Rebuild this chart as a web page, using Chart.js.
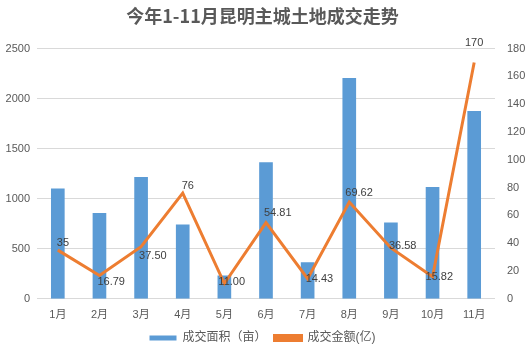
<!DOCTYPE html>
<html>
<head>
<meta charset="utf-8">
<script src="https://cdn.jsdelivr.net/npm/chart.js@4/dist/chart.umd.min.js"></script>
<style>
  html, body { margin: 0; padding: 0; background: #fff; }
  #wrap { width: 525px; height: 354px; }
</style>
</head>
<body>
<div id="wrap"><canvas id="graphique"></canvas></div>
<script>
// donnees
var mois = ['1月','2月','3月','4月','5月','6月','7月','8月','9月','10月','11月'];
var surfaces = [1100, 853, 1213, 740, 230, 1360, 363, 2203, 760, 1113, 1873];
var montants = [35, 16.79, 37.50, 76, 11.00, 54.81, 14.43, 69.62, 36.58, 15.82, 170];
var etiquettesMontants = ['35','16.79','37.50','76','11.00','54.81','14.43','69.62','36.58','15.82','170'];
var ticksGauche = [0, 500, 1000, 1500, 2000, 2500];
var ticksDroite = [0, 20, 40, 60, 80, 100, 120, 140, 160, 180];

// decalage des etiquettes (style)
var decalY = [-7, 7, 9, -7, -2, -10, 0, -9, -2, 0, -20];
var decalX = [-1, -2, -2, -1, -6, -2, -2, -4, -2, -7, 0];

var texteFont = '"Liberation Sans", "Noto Sans CJK SC", sans-serif';

/* plugin pour les etiquettes de la courbe */
var etiquettes = {
  id: 'etiquettes',
  afterDatasetsDraw: function(chart){
    var ctx = chart.ctx;
    var meta = chart.getDatasetMeta(1);
    ctx.save();
    ctx.font = '11px ' + texteFont;
    ctx.fillStyle = '#404040';
    ctx.textBaseline = 'middle';
    meta.data.forEach(function(pt, i){
      ctx.textAlign = (i == meta.data.length - 1) ? 'center' : 'left';
      ctx.fillText(etiquettesMontants[i], pt.x + decalX[i], pt.y + decalY[i]);
    });
    ctx.restore();
  }
};

new Chart(document.getElementById('graphique'), {
  type: 'bar',
  data: {
    labels: mois,
    datasets: [
      {
        type: 'bar',
        label: '成交面积（亩）',
        data: surfaces,
        backgroundColor: '#5B9BD5',
        barThickness: 13,
        yAxisID: 'y',
        order: 2
      },
      {
        type: 'line',
        label: '成交金额(亿)',
        data: montants,
        borderColor: '#ED7D31',
        backgroundColor: '#ED7D31',
        borderWidth: 3,
        pointRadius: 0,
        tension: 0,
        yAxisID: 'y1',
        order: 1
      }
    ]
  },
  options: {
    responsive: true,
    maintainAspectRatio: false,
    animation: false,
    layout: { padding: { left: 0, right: 0, top: 0, bottom: 0 } },
    plugins: {
      title: {
        display: true,
        text: '今年1-11月昆明主城土地成交走势',
        color: '#595959',
        font: { size: 18, weight: 'bold', family: '"Noto Sans CJK SC", sans-serif' },
        padding: { top: 5, bottom: 22 }
      },
      legend: {
        position: 'bottom',
        labels: {
          boxWidth: 27,
          boxHeight: 5,
          color: '#595959',
          padding: 8,
          font: { size: 12, family: texteFont },
          sort: function(a, b){ return a.datasetIndex - b.datasetIndex; }
        }
      },
      tooltip: { enabled: false }
    },
    scales: {
      x: {
        grid: { display: false },
        border: { display: false },
        ticks: { color: '#595959', font: { size: 11, family: texteFont }, padding: 2 }
      },
      y: {
        position: 'left',
        min: 0, max: 2500,
        afterBuildTicks: function(s){ s.ticks = ticksGauche.map(function(v){ return {value: v}; }); },
        afterFit: function(s){ s.width = 37; },
        grid: { color: '#D9D9D9', drawTicks: false },
        border: { display: false },
        ticks: { color: '#595959', font: { size: 11, family: texteFont }, padding: 7,
                 callback: function(v){ return String(v); } }
      },
      y1: {
        position: 'right',
        min: 0, max: 180,
        afterBuildTicks: function(s){ s.ticks = ticksDroite.map(function(v){ return {value: v}; }); },
        afterFit: function(s){ s.width = 30; },
        grid: { display: false },
        border: { display: false },
        ticks: { color: '#595959', font: { size: 11, family: texteFont }, padding: 4,
                 callback: function(v){ return String(v); } }
      }
    }
  },
  plugins: [etiquettes]
});
</script>
</body>
</html>
